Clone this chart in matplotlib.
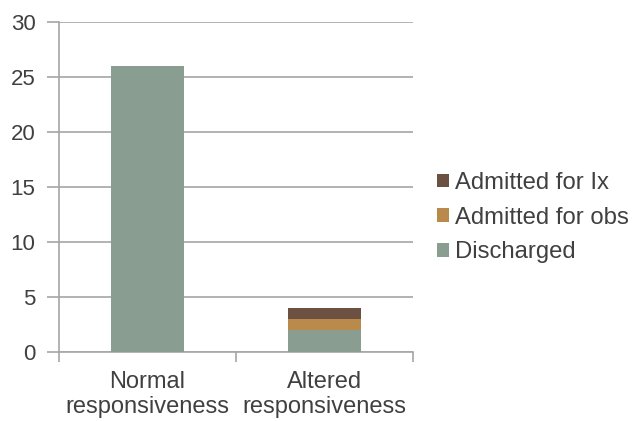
import matplotlib.pyplot as plt
import numpy as np

categories = ["Normal\nresponsiveness", "Altered\nresponsiveness"]
discharged = [26, 2]
admitted_obs = [0, 1]
admitted_ix = [0, 1]

colors = {"Discharged": "#8a9d91", "Admitted for obs": "#b98a4c", "Admitted for Ix": "#6c5142"}
text_color = "#404040"
grid_color = "#a6a6a6"

plt.rcParams["font.family"] = ["Liberation Sans", "DejaVu Sans"]

fig = plt.figure(figsize=(6.32, 4.21), dpi=100)
ax = fig.add_axes([59 / 632, 1 - 352 / 421, 354 / 632, 330 / 421])

x = np.arange(len(categories))
w = 0.41
b1 = ax.bar(x, discharged, w, color=colors["Discharged"], label="Discharged", zorder=3)
bottom = np.array(discharged)
b2 = ax.bar(x, admitted_obs, w, bottom=bottom, color=colors["Admitted for obs"],
            label="Admitted for obs", zorder=3)
bottom = bottom + np.array(admitted_obs)
b3 = ax.bar(x, admitted_ix, w, bottom=bottom, color=colors["Admitted for Ix"],
            label="Admitted for Ix", zorder=3)

ax.set_xlim(-0.5, 1.5)
ax.set_ylim(0, 30)
ax.set_yticks(range(0, 31, 5))
ax.yaxis.grid(True, color=grid_color, linewidth=1.2, zorder=0)
ax.set_axisbelow(True)

for s in ["top", "right"]:
    ax.spines[s].set_visible(False)
for s in ["left", "bottom"]:
    ax.spines[s].set_color(grid_color)
    ax.spines[s].set_linewidth(1.2)

ax.set_xticks([-0.5, 0.5, 1.5], minor=False)
ax.set_xticklabels([])
ax.tick_params(axis="x", which="major", length=7, color=grid_color, width=1.2)
ax.set_xticks(x, minor=True)
ax.set_xticklabels(categories, minor=True, fontsize=17, color=text_color, linespacing=1.15)
ax.tick_params(axis="x", which="minor", length=0, pad=14)
ax.tick_params(axis="y", length=9, color=grid_color, width=1.2, labelsize=16,
               labelcolor=text_color, pad=8)

handles = [b3, b2, b1]
labels = ["Admitted for Ix", "Admitted for obs", "Discharged"]
leg = fig.legend(handles, labels, loc="upper left", bbox_to_anchor=(437 / 632, 1 - 172 / 421),
                 frameon=False, fontsize=17.2, handlelength=0.5, handleheight=0.5,
                 handletextpad=0.25, labelspacing=0.53, borderaxespad=0, borderpad=0)
for t in leg.get_texts():
    t.set_color(text_color)

fig.savefig("out.png", dpi=100)
